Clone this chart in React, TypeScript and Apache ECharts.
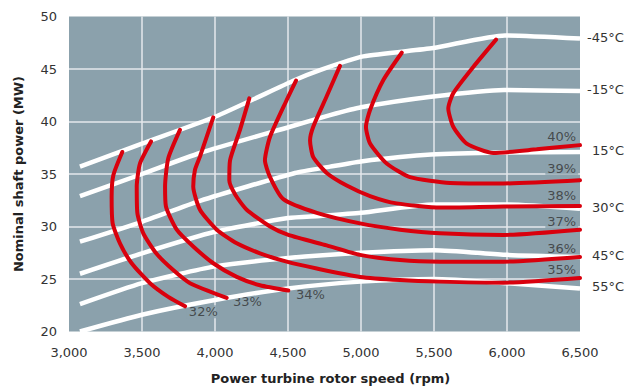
import React, { useEffect, useRef } from "react";
import * as echarts from "echarts";

// Temperature lines (white): [rpm, MW]
const tempM45 = [[3075, 35.7], [3500, 37.9], [4000, 40.45], [4548, 43.95], [4719, 44.9], [5016, 46.2], [5495, 47.0], [5986, 48.2], [6500, 47.9]];
const tempM15 = [[3075, 32.9], [3500, 35.0], [3897, 37.0], [4514, 39.5], [4788, 40.6], [5000, 41.35], [5480, 42.35], [5980, 43.0], [6500, 42.9]];
const temp15 = [[3075, 28.55], [3500, 30.45], [3897, 32.45], [4548, 35.1], [4788, 35.7], [5000, 36.2], [5480, 36.85], [5980, 37.05], [6500, 37.1]];
const temp30 = [[3075, 25.5], [3500, 27.45], [4000, 29.5], [4500, 30.8], [4720, 31.0], [5000, 31.3], [5500, 32.1], [6000, 32.1], [6500, 31.7]];
const temp45 = [[3075, 22.6], [3500, 24.6], [4000, 26.2], [4500, 27.0], [5000, 27.5], [5500, 27.75], [6000, 27.3], [6500, 27.1]];
const temp55 = [[3075, 20.0], [3500, 21.6], [4000, 23.0], [4500, 24.1], [5000, 24.75], [5500, 25.0], [6000, 24.6], [6500, 24.1]];
const tempNames = ["-45°C", "-15°C", "15°C", "30°C", "45°C", "55°C"];

// Efficiency contours (red): [rpm, MW]
const eff32 = [[3365, 37.1], [3304, 34.9], [3292, 32.8], [3299, 30.3], [3349, 28.4], [3429, 26.5], [3555, 24.6], [3680, 23.3], [3795, 22.4]];
const eff33 = [[3562, 38.1], [3486, 36.0], [3464, 33.8], [3468, 31.3], [3509, 29.35], [3600, 27.4], [3714, 25.85], [3829, 24.6], [4080, 23.2]];
const eff34 = [[3760, 39.2], [3680, 36.5], [3658, 33.8], [3664, 31.9], [3738, 29.7], [3851, 28.1], [3988, 26.5], [4149, 25.2], [4308, 24.4], [4502, 23.9]];
const eff35 = [[3988, 40.4], [3897, 36.65], [3863, 35.4], [3851, 33.8], [3897, 31.6], [4012, 29.7], [4149, 28.4], [4308, 27.45], [4491, 26.65], [4697, 26.0], [4993, 25.2], [5267, 24.9], [5541, 24.75], [5975, 24.65], [6500, 25.1]];
const eff36 = [[4235, 42.2], [4171, 39.2], [4103, 36.3], [4098, 34.4], [4140, 33.0], [4217, 31.6], [4377, 30.0], [4502, 29.2], [4765, 28.2], [4993, 27.3], [5267, 26.8], [5541, 26.65], [5975, 26.65], [6500, 27.1]];
const eff37 = [[4555, 43.9], [4491, 42.05], [4377, 38.55], [4342, 36.3], [4377, 34.7], [4468, 32.6], [4697, 31.3], [4993, 30.3], [5267, 29.7], [5541, 29.35], [5975, 29.2], [6500, 29.7]];
const eff38 = [[4856, 45.3], [4765, 42.4], [4673, 39.5], [4651, 38.2], [4673, 36.6], [4765, 35.1], [4902, 33.9], [5062, 32.9], [5244, 32.2], [5541, 31.8], [5975, 31.9], [6500, 31.95]];
const eff39 = [[5279, 46.55], [5153, 43.95], [5062, 41.1], [5034, 39.5], [5062, 37.9], [5176, 36.0], [5336, 34.7], [5610, 34.15], [5975, 34.1], [6500, 34.4]];
const eff40 = [[5925, 47.8], [5769, 45.2], [5632, 42.7], [5598, 41.25], [5632, 39.5], [5724, 37.9], [5906, 37.0], [6203, 37.35], [6500, 37.75]];
const effNames = ["32%", "33%", "34%", "35%", "36%", "37%", "38%", "39%", "40%"];

// Efficiency label positions: [label, rpm, MW]
const effLabelPos: [string, number, number][] = [
  ["32%", 3920, 21.89],
  ["33%", 4222, 22.84],
  ["34%", 4654, 23.48],
  ["35%", 6375, 25.86],
  ["36%", 6375, 27.92],
  ["37%", 6375, 30.46],
  ["38%", 6375, 33.0],
  ["39%", 6375, 35.54],
  ["40%", 6375, 38.55],
];

const FONT = "DejaVu Sans";
const PLOT_BG = "#8ba1ac";

export default function App() {
  const ref = useRef<HTMLDivElement>(null);
  useEffect(() => {
    if (!ref.current) return;
    const chart = echarts.init(ref.current, undefined, { renderer: "svg" });
    const temps = [tempM45, tempM15, temp15, temp30, temp45, temp55];
    const effs = [eff32, eff33, eff34, eff35, eff36, eff37, eff38, eff39, eff40];

    const tempSeries = temps.map((d, i) => ({
      type: "line",
      name: tempNames[i],
      data: d,
      smooth: 0.2,
      showSymbol: false,
      symbol: "none",
      z: 2,
      lineStyle: { color: "#ffffff", width: 4.5, cap: "butt" },
      endLabel: {
        show: true,
        formatter: tempNames[i],
        distance: 7,
        offset: [tempNames[i].startsWith("-") ? 0 : 5, -1.5],
        color: "#333",
        fontFamily: FONT,
        fontSize: 13,
      },
      emphasis: { disabled: true },
      silent: true,
    }));

    const effSeries = effs.map((d, i) => ({
      type: "line",
      name: effNames[i],
      data: d,
      smooth: 0.2,
      showSymbol: false,
      symbol: "none",
      z: 3,
      lineStyle: { color: "#d9000d", width: 4, cap: "round" },
      emphasis: { disabled: true },
      silent: true,
    }));

    const labelSeries = {
      type: "scatter",
      symbolSize: 0,
      z: 1,
      silent: true,
      data: effLabelPos.map(([t, x, y]) => ({ name: t, value: [x, y] })),
      label: {
        show: true,
        position: "inside",
        formatter: (p: any) => p.name,
        color: "#333",
        fontFamily: FONT,
        fontSize: 13,
        backgroundColor: PLOT_BG,
        padding: [0, 2],
      },
    };

    chart.setOption({
      animation: false,
      grid: {
        left: 69,
        right: 58,
        top: 16.5,
        bottom: 59.5,
        show: true,
        backgroundColor: PLOT_BG,
        borderWidth: 0,
      },
      xAxis: {
        type: "value",
        min: 3000,
        max: 6500,
        interval: 500,
        name: "Power turbine rotor speed (rpm)",
        nameLocation: "middle",
        nameGap: 40,
        nameTextStyle: { fontFamily: FONT, fontSize: 13, fontWeight: "bold", color: "#222", padding: [0, 0, 0, 12] },
        axisLine: { show: false },
        axisTick: { show: false },
        axisLabel: {
          margin: 14,
          color: "#333",
          fontFamily: FONT,
          fontSize: 13,
          formatter: (v: number) => v.toLocaleString("en-US"),
        },
        splitLine: { show: true, showMinLine: false, showMaxLine: false, lineStyle: { color: "#e4e9ec", width: 1.5 } },
      },
      yAxis: {
        type: "value",
        min: 20,
        max: 50,
        interval: 5,
        name: "Nominal shaft power (MW)",
        nameLocation: "middle",
        nameGap: 44,
        nameTextStyle: { fontFamily: FONT, fontSize: 13, fontWeight: "bold", color: "#222" },
        axisLine: { show: false },
        axisTick: { show: false },
        axisLabel: { margin: 12, color: "#333", fontFamily: FONT, fontSize: 13 },
        splitLine: { show: true, showMinLine: false, showMaxLine: false, lineStyle: { color: "#e4e9ec", width: 1.5 } },
      },
      series: [labelSeries, ...tempSeries, ...effSeries],
    } as any);
    return () => chart.dispose();
  }, []);
  return <div ref={ref} style={{ width: 638, height: 391, position: "absolute", left: 0, top: 0 }} />;
}
